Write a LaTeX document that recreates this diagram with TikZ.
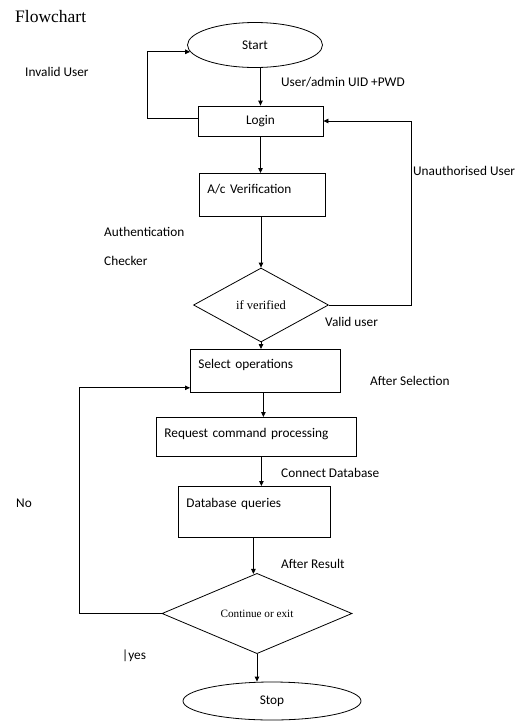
\documentclass[tikz,border=0pt]{standalone}
\usepackage{fontspec}
\setmainfont{Carlito}
\newfontfamily\Ctimesfont{Liberation Serif}
\usetikzlibrary{shapes.geometric,arrows.meta}

\tikzset{
	flowline/.style={line width=0.8pt,black},
	flowarrow/.style={flowline,-{Triangle[length=5pt,width=4.5pt]}},
	termnode/.style={draw,flowline,ellipse,inner sep=0pt},
	procbox/.style={draw,flowline,rectangle,inner sep=0pt},
	textbox/.style={draw,flowline,rectangle,align=left,inner xsep=8pt,inner ysep=0pt,anchor=north west},
	decision/.style={draw,flowline,diamond,inner sep=0pt},
	flowlabel/.style={anchor=base west,inner sep=0pt}
}

\begin{document}
\begin{tikzpicture}[x=1pt,y=-1pt,font=\fontsize{13.3}{15}\selectfont]
		\useasboundingbox (0,0) rectangle (525,721);
		\node[flowlabel,font=\Ctimesfont\fontsize{17.5}{20}\selectfont] (title) at (15,22) {Flowchart};
		\node[termnode,minimum width=135pt,minimum height=45pt] (start) at (255,45) {Start};
		\node[procbox,minimum width=125pt,minimum height=30pt] (login) at (260.5,121) {Login};
		\node[textbox,text width=110pt,text height=20pt,text depth=23pt] (acv) at (199,173) {A/c Verification};
		\node[decision,minimum width=135pt,minimum height=74pt] (ifv) at (261,305) {\Ctimesfont\fontsize{12.5}{14}\selectfont if verified};
		\node[textbox,text width=134pt,text height=19pt,text depth=24pt] (sel) at (190,349) {Select operations};
		\node[textbox,text width=184pt,text height=20pt,text depth=19pt] (req) at (156,417) {Request command processing};
		\node[textbox,text width=136pt,text height=21pt,text depth=30pt] (dbq) at (178,486) {Database queries};
		\node[decision,minimum width=190pt,minimum height=61pt] (cont) at (257,613.5) {\Ctimesfont\fontsize{11.2}{13}\selectfont Continue or exit};
		\node[termnode,minimum width=178pt,minimum height=38pt] (stop) at (272,701) {Stop};

		\node[flowlabel] (invalid) at (25,76) {Invalid User};
		\node[flowlabel] (uid) at (281,86) {User/admin UID +PWD};
		\node[flowlabel] (unauth) at (413,175) {Unauthorised User};
		\node[flowlabel] (auth) at (104,236) {Authentication};
		\node[flowlabel] (checker) at (104,265) {Checker};
		\node[flowlabel] (valid) at (325,326) {Valid user};
		\node[flowlabel] (aftersel) at (370,385) {After Selection};
		\node[flowlabel] (conndb) at (281,477) {Connect Database};
		\node[flowlabel] (no) at (16,507) {No};
		\node[flowlabel] (afterres) at (281,568) {After Result};
		\node[flowlabel] (yes) at (122,659) {|yes};

		\draw[flowarrow] (login.north |- start.south) -- (login.north);
		\draw[flowarrow] (login.south) -- (login.south |- acv.north);
		\draw[flowarrow] (ifv.north |- acv.south) -- (ifv.north);
		\draw[flowarrow] (ifv.south) -- (ifv.south |- sel.north);
		\draw[flowarrow] ([xshift=-2pt]sel.south) -- ([xshift=-2pt]sel.south |- req.north);
		\draw[flowarrow] ([xshift=5pt]req.south) -- ([xshift=5pt]req.south |- dbq.north);
		\draw[flowarrow] ([xshift=-1pt]dbq.south) -- ([xshift=-1pt,yshift=-1pt]dbq.south |- cont.north);
		\draw[flowarrow] (cont.south) -- (cont.south |- stop.north);

		\draw[flowarrow] ([yshift=3pt]login.west) -- ++(-50,0) |- (start.186);
		\draw[flowarrow] (ifv.east) -- ++(82,0) |- (login.east);
		\draw[flowarrow] (cont.west) -- ++(-82,0) |- ([yshift=5pt]sel.south west);
	\end{tikzpicture}
\end{document}
